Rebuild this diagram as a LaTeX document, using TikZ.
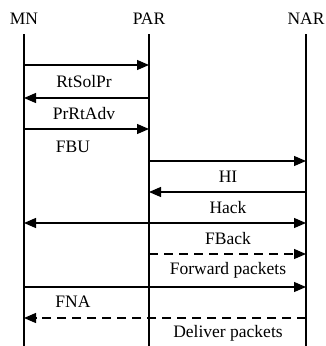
\documentclass[tikz,border=0pt]{standalone}
\usepackage{fontspec}
\setmainfont{Liberation Serif}
\usetikzlibrary{arrows.meta}
\begin{document}
\begin{tikzpicture}[x=1pt,y=-1pt,
  life/.style={line width=1.2pt},
  msg/.style={line width=1.2pt,-{Triangle[length=12pt,width=10pt]}},
  dmsg/.style={msg,dash pattern=on 9pt off 6pt},
  lbl/.style={font=\fontsize{17.5}{20}\selectfont,inner sep=0pt}]
\useasboundingbox (0,0) rectangle (325,346);
% headers
\node[lbl] (MN)  at (24,19) {MN};
\node[lbl] (PAR) at (149,19) {PAR};
\node[lbl] (NAR) at (306,19) {NAR};
% lifelines
\coordinate (mnt) at (24,34);  \coordinate (mnb) at (24,346);
\coordinate (part) at (149,34); \coordinate (parb) at (149,346);
\coordinate (nart) at (306,34); \coordinate (narb) at (306,346);
\draw[life] (mnt) -- (mnb);
\draw[life] (part) -- (parb);
\draw[life] (nart) -- (narb);
% messages
\draw[msg] (mnt |- 0,65) -- (part |- 0,65);
\node[lbl] (l1) at (84,82) {RtSolPr};
\draw[msg] (part |- 0,98) -- (mnt |- 0,98);
\node[lbl] (l2) at (84,114) {PrRtAdv};
\draw[msg] (mnt |- 0,129) -- (part |- 0,129);
\node[lbl] (l3) at (73,147) {FBU};
\draw[msg] (part |- 0,161) -- (nart |- 0,161);
\node[lbl] (l4) at (228,177) {HI};
\draw[msg] (nart |- 0,192) -- (part |- 0,192);
\node[lbl] (l5) at (228,208) {Hack};
\draw[msg,{Triangle[length=12pt,width=10pt]}-{Triangle[length=12pt,width=10pt]}] (mnt |- 0,223) -- (nart |- 0,223);
\node[lbl] (l6) at (228,239) {FBack};
\draw[dmsg] (part |- 0,254) -- (nart |- 0,254);
\node[lbl] (l7) at (228,270) {Forward packets};
\draw[msg] (mnt |- 0,287) -- (nart |- 0,287);
\node[lbl] (l8) at (73,302) {FNA};
\draw[dmsg] (nart |- 0,318) -- (mnt |- 0,318);
\node[lbl] (l9) at (228,333) {Deliver packets};
\end{tikzpicture}
\end{document}
